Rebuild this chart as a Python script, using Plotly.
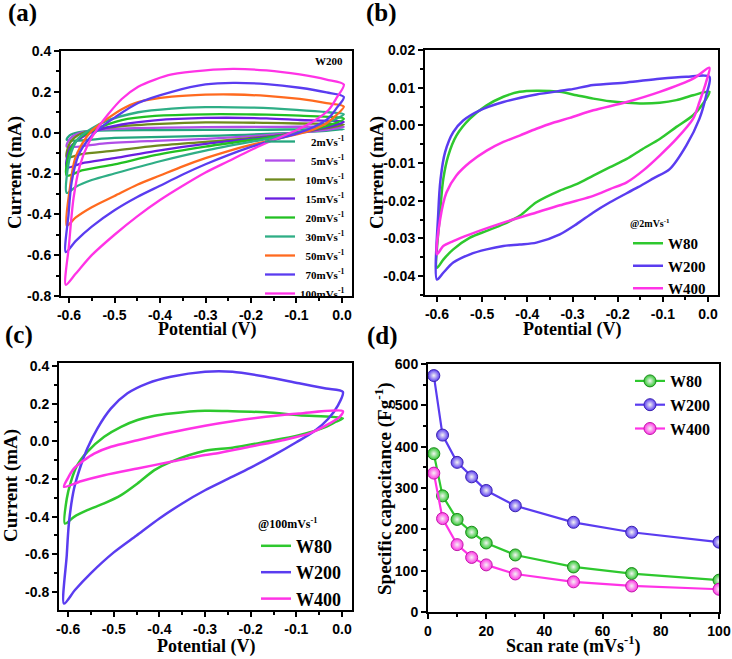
import plotly.graph_objects as go

SANS = "Liberation Sans, Arial, sans-serif"
SERIF = "Liberation Serif, Times New Roman, serif"
W, H = 732, 659

# ---------------- Panel (a): W200, CV at several scan rates ----------------
A_NAMES = ["\u2007\u20072mVs<sup>-1</sup>", "\u2007\u20075mVs<sup>-1</sup>", "\u200710mVs<sup>-1</sup>",
           "\u200715mVs<sup>-1</sup>", "\u200720mVs<sup>-1</sup>", "\u200730mVs<sup>-1</sup>",
           "\u200750mVs<sup>-1</sup>", "\u200770mVs<sup>-1</sup>", "100mVs<sup>-1</sup>"]
A_COLORS = ["#23a67e", "#b04ee8", "#6f8a1e", "#6a1fe0", "#22c022", "#2fae86", "#ff6a1f", "#5a3cf0", "#ff33e6"]

A2_X = [-0.605, -0.598, -0.58, -0.543, -0.40, -0.20, 0.004, -0.10, -0.30, -0.50, -0.605]
A2_Y = [-0.035, -0.012, 0.002, 0.010, 0.013, 0.014, 0.016, 0.000, -0.016, -0.026, -0.035]
A5_X = [-0.605, -0.598, -0.58, -0.543, -0.484, -0.30, -0.15, 0.004, -0.05, -0.166, -0.30, -0.411, -0.521, -0.605]
A5_Y = [-0.068, -0.03, -0.005, 0.012, 0.020, 0.027, 0.028, 0.028, 0.010, -0.012, -0.030, -0.040, -0.052, -0.068]
A10_X = [-0.605, -0.598, -0.58, -0.543, -0.484, -0.40, -0.30, -0.166, -0.093, 0.004, -0.04, -0.10, -0.166, -0.30, -0.411, -0.50, -0.572, -0.605]
A10_Y = [-0.12, -0.05, -0.012, 0.015, 0.032, 0.043, 0.050, 0.048, 0.045, 0.040, 0.020, 0.000, -0.020, -0.045, -0.065, -0.088, -0.105, -0.12]
A15_X = [-0.605, -0.598, -0.58, -0.543, -0.484, -0.411, -0.30, -0.166, -0.093, 0.004, -0.03, -0.093, -0.166, -0.30, -0.411, -0.50, -0.572, -0.605]
A15_Y = [-0.17, -0.075, -0.035, 0.008, 0.040, 0.060, 0.072, 0.070, 0.062, 0.052, 0.028, 0.000, -0.022, -0.055, -0.090, -0.125, -0.150, -0.17]
A20_X = [-0.605, -0.598, -0.58, -0.543, -0.484, -0.411, -0.30, -0.166, -0.093, 0.004, -0.03, -0.093, -0.166, -0.30, -0.411, -0.50, -0.572, -0.605]
A20_Y = [-0.21, -0.09, -0.03, 0.016, 0.062, 0.082, 0.090, 0.088, 0.083, 0.068, 0.035, 0.000, -0.025, -0.068, -0.110, -0.155, -0.185, -0.21]
A30_X = [-0.605, -0.598, -0.58, -0.55, -0.52, -0.448, -0.374, -0.30, -0.20, -0.10, -0.03, 0.004, -0.02, -0.06, -0.10, -0.15, -0.20, -0.30, -0.40, -0.50, -0.55, -0.585, -0.605]
A30_Y = [-0.295, -0.12, -0.03, 0.02, 0.055, 0.10, 0.118, 0.125, 0.123, 0.112, 0.100, 0.090, 0.060, 0.025, 0.000, -0.025, -0.045, -0.088, -0.140, -0.200, -0.232, -0.265, -0.295]
A50_X = [-0.605, -0.598, -0.587, -0.572, -0.55, -0.521, -0.484, -0.448, -0.374, -0.30, -0.239, -0.166, -0.093, -0.034, 0.004,
         -0.013, -0.035, -0.07, -0.10, -0.15, -0.20, -0.25, -0.30, -0.35, -0.40, -0.45, -0.50, -0.55, -0.585, -0.605]
A50_Y = [-0.455, -0.27, -0.13, -0.057, 0.01, 0.06, 0.115, 0.15, 0.176, 0.186, 0.187, 0.18, 0.165, 0.145, 0.128,
         0.085, 0.045, 0.01, -0.008, -0.035, -0.06, -0.09, -0.125, -0.165, -0.21, -0.255, -0.31, -0.365, -0.415, -0.455]
A70_X = [-0.607, -0.601, -0.594, -0.579, -0.558, -0.536, -0.499, -0.448, -0.374, -0.30, -0.239, -0.166, -0.093, -0.034, 0.004,
         -0.012, -0.03, -0.06, -0.10, -0.15, -0.20, -0.25, -0.30, -0.35, -0.40, -0.45, -0.50, -0.55, -0.585, -0.607]
A70_Y = [-0.585, -0.40, -0.24, -0.11, -0.035, 0.015, 0.075, 0.145, 0.20, 0.236, 0.244, 0.238, 0.22, 0.197, 0.175,
         0.12, 0.07, 0.03, -0.005, -0.035, -0.07, -0.11, -0.155, -0.205, -0.26, -0.315, -0.38, -0.46, -0.53, -0.585]
A100_X = [-0.607, -0.600, -0.590, -0.576, -0.558, -0.536, -0.514, -0.484, -0.448, -0.411, -0.374, -0.30, -0.24, -0.166, -0.093, -0.034, 0.004,
          -0.012, -0.03, -0.06, -0.10, -0.15, -0.20, -0.25, -0.30, -0.35, -0.40, -0.45, -0.50, -0.55, -0.585, -0.607]
A100_Y = [-0.745, -0.55, -0.32, -0.16, -0.055, 0.025, 0.09, 0.165, 0.225, 0.26, 0.285, 0.305, 0.312, 0.305, 0.285, 0.26, 0.236,
          0.17, 0.11, 0.06, 0.012, -0.035, -0.085, -0.14, -0.195, -0.26, -0.33, -0.41, -0.50, -0.60, -0.69, -0.745]

# ---------------- Panel (b): @2 mV/s ----------------
B_NAMES = ["W80", "W200", "W400"]
B80_X = [-0.600, -0.593, -0.586, -0.575, -0.557, -0.527, -0.490, -0.453, -0.417, -0.380, -0.328, -0.291, -0.254, -0.217, -0.180, -0.144, -0.107, -0.070, -0.033, 0.003,
         -0.011, -0.033, -0.070, -0.107, -0.144, -0.180, -0.217, -0.254, -0.291, -0.328, -0.380, -0.417, -0.453, -0.490, -0.527, -0.564, -0.586, -0.600]
B80_Y = [-0.0378, -0.023, -0.0142, -0.008, -0.0027, 0.0018, 0.0053, 0.0076, 0.0089, 0.0092, 0.0089, 0.008, 0.0071, 0.0064, 0.006, 0.0058, 0.006, 0.0067, 0.008, 0.0089,
         0.0058, 0.0027, -0.0004, -0.0036, -0.0062, -0.0089, -0.0111, -0.0133, -0.0156, -0.0173, -0.0204, -0.024, -0.0262, -0.028, -0.0298, -0.0329, -0.0356, -0.0378]
B200_X = [-0.600, -0.597, -0.592, -0.582, -0.564, -0.542, -0.505, -0.453, -0.380, -0.306, -0.254, -0.180, -0.107, -0.048, 0.003,
          -0.004, -0.019, -0.048, -0.085, -0.120, -0.155, -0.217, -0.254, -0.291, -0.328, -0.380, -0.417, -0.453, -0.490, -0.527, -0.564, -0.586, -0.600]
B200_Y = [-0.0409, -0.023, -0.0142, -0.0071, -0.0018, 0.0013, 0.004, 0.0062, 0.0082, 0.0095, 0.0107, 0.0114, 0.0124, 0.0129, 0.0129,
          0.008, 0.0018, -0.0053, -0.0116, -0.014, -0.0164, -0.0204, -0.0231, -0.0262, -0.0289, -0.0311, -0.0316, -0.032, -0.0329, -0.0342, -0.0364, -0.0391, -0.0409]
B400_X = [-0.600, -0.593, -0.579, -0.557, -0.527, -0.490, -0.453, -0.417, -0.380, -0.343, -0.306, -0.254, -0.180, -0.107, -0.033, 0.003,
          -0.004, -0.019, -0.033, -0.070, -0.107, -0.144, -0.180, -0.217, -0.254, -0.291, -0.328, -0.380, -0.453, -0.527, -0.564, -0.586, -0.600]
B400_Y = [-0.0342, -0.0249, -0.0178, -0.0133, -0.0098, -0.0067, -0.0044, -0.0027, -0.0009, 0.0007, 0.002, 0.004, 0.0062, 0.0089, 0.0124, 0.0153,
          0.0116, 0.0062, 0.0018, -0.0036, -0.008, -0.012, -0.0151, -0.0169, -0.0187, -0.02, -0.0212, -0.0231, -0.0258, -0.0289, -0.0307, -0.032, -0.0342]

# ---------------- Panel (c): @100 mV/s ----------------
C80_X = [-0.607, -0.603, -0.594, -0.580, -0.558, -0.521, -0.484, -0.448, -0.411, -0.375, -0.300, -0.240, -0.167, -0.094, 0.002,
         -0.013, -0.035, -0.094, -0.167, -0.240, -0.300, -0.375, -0.411, -0.448, -0.484, -0.521, -0.558, -0.587, -0.607]
C80_Y = [-0.437, -0.305, -0.215, -0.127, -0.056, 0.024, 0.077, 0.113, 0.136, 0.148, 0.162, 0.16, 0.154, 0.139, 0.122,
         0.104, 0.077, 0.033, -0.002, -0.034, -0.05, -0.109, -0.153, -0.224, -0.286, -0.33, -0.366, -0.401, -0.437]
C200_X = [-0.609, -0.603, -0.598, -0.587, -0.572, -0.558, -0.536, -0.506, -0.470, -0.426, -0.375, -0.300, -0.240, -0.167, -0.094, -0.035, 0.002,
          -0.009, -0.030, -0.060, -0.100, -0.150, -0.200, -0.250, -0.300, -0.350, -0.400, -0.450, -0.500, -0.550, -0.585, -0.609]
C200_Y = [-0.862, -0.605, -0.428, -0.251, -0.127, -0.038, 0.068, 0.175, 0.255, 0.308, 0.343, 0.37, 0.37, 0.343, 0.308, 0.281, 0.263,
          0.19, 0.12, 0.055, -0.005, -0.075, -0.14, -0.2, -0.26, -0.33, -0.41, -0.5, -0.59, -0.7, -0.79, -0.862]
C400_X = [-0.609, -0.601, -0.587, -0.565, -0.543, -0.506, -0.448, -0.375, -0.300, -0.240, -0.167, -0.094, 0.002,
          -0.005, -0.027, -0.071, -0.130, -0.203, -0.276, -0.300, -0.375, -0.448, -0.521, -0.572, -0.609]
C400_Y = [-0.242, -0.198, -0.144, -0.1, -0.065, -0.029, 0.006, 0.047, 0.083, 0.107, 0.13, 0.148, 0.16,
          0.13, 0.095, 0.042, 0.006, -0.029, -0.065, -0.073, -0.109, -0.144, -0.18, -0.212, -0.242]

# ---------------- Panel (d): specific capacitance ----------------
D_X = [2, 5, 10, 15, 20, 30, 50, 70, 100]
D80 = [383, 281, 224, 193, 167, 138, 109, 93, 77]
D200 = [572, 428, 362, 327, 294, 257, 217, 193, 169]
D400 = [336, 226, 163, 132, 114, 92, 73, 63, 55]

GREEN, BLUE, PINK = "#2ec82e", "#5a3cf0", "#ff33e6"

# tick labels
X_CV_VALS = [-0.6, -0.5, -0.4, -0.3, -0.2, -0.1, 0.0]
X_CV_TEXT = ["-0.6", "-0.5", "-0.4", "-0.3", "-0.2", "-0.1", "0.0"]
Y_A_VALS = [0.4, 0.2, 0.0, -0.2, -0.4, -0.6, -0.8]
Y_A_TEXT = ["0.4", "0.2", "0.0", "-0.2", "-0.4", "-0.6", "-0.8"]
Y_B_VALS = [0.02, 0.01, 0.0, -0.01, -0.02, -0.03, -0.04]
Y_B_TEXT = ["0.02", "0.01", "0.00", "-0.01", "-0.02", "-0.03", "-0.04"]
X_D_VALS = [0, 20, 40, 60, 80, 100]
Y_D_VALS = [0, 100, 200, 300, 400, 500, 600]


def px_dom(a, b, total, flip=False):
    if flip:
        return [1 - b / total, 1 - a / total]
    return [a / total, b / total]


fig = go.Figure()

a_series = [(A2_X, A2_Y), (A5_X, A5_Y), (A10_X, A10_Y), (A15_X, A15_Y), (A20_X, A20_Y),
            (A30_X, A30_Y), (A50_X, A50_Y), (A70_X, A70_Y), (A100_X, A100_Y)]
for (xs, ys), name, col in zip(a_series, A_NAMES, A_COLORS):
    fig.add_trace(go.Scatter(x=xs, y=ys, name=name, mode="lines",
                             line=dict(color=col, width=2.3, shape="spline", smoothing=0.8),
                             xaxis="x", yaxis="y", legend="legend"))

for (xs, ys), name, col in zip([(B80_X, B80_Y), (B200_X, B200_Y), (B400_X, B400_Y)], B_NAMES, [GREEN, BLUE, PINK]):
    fig.add_trace(go.Scatter(x=xs, y=ys, name=name, mode="lines",
                             line=dict(color=col, width=2.5, shape="spline", smoothing=0.8),
                             xaxis="x2", yaxis="y2", legend="legend2"))

for (xs, ys), name, col in zip([(C80_X, C80_Y), (C200_X, C200_Y), (C400_X, C400_Y)], B_NAMES, [GREEN, BLUE, PINK]):
    fig.add_trace(go.Scatter(x=xs, y=ys, name=name, mode="lines",
                             line=dict(color=col, width=2.5, shape="spline", smoothing=0.8),
                             xaxis="x3", yaxis="y3", legend="legend3"))

for ys, name, col, edge in zip([D80, D200, D400], B_NAMES, [GREEN, BLUE, PINK], ["#1a8a1a", "#3a22b0", "#c01aa8"]):
    fig.add_trace(go.Scatter(x=D_X, y=ys, name=name, mode="lines+markers",
                             line=dict(color=col, width=2.2),
                             marker=dict(symbol="circle", size=12, color=col,
                                         gradient=dict(type="radial", color="#f4f4f4"),
                                         line=dict(color=edge, width=1)),
                             xaxis="x4", yaxis="y4", legend="legend4"))

tickfont = dict(family=SANS, size=14, color="black", weight="bold")


def axis(dom, rng, vals, text, minor_dtick, anchor):
    return dict(domain=dom, range=rng, anchor=anchor, automargin=False, tickmode="array", tickvals=vals, ticktext=text,
                showline=True, linecolor="black", linewidth=2, mirror=True,
                ticks="outside", ticklen=5, tickwidth=1.5, tickcolor="black",
                showgrid=False, zeroline=False, tickfont=tickfont,
                minor=dict(tickmode="linear", tick0=0, dtick=minor_dtick, ticks="outside",
                           ticklen=3, tickwidth=1.5, tickcolor="black", showgrid=False))


leg_common = dict(bgcolor="rgba(0,0,0,0)", borderwidth=0, xanchor="left", yanchor="top", itemwidth=30)

fig.update_layout(
    template="none",
    width=W, height=H, margin=dict(l=0, r=0, t=0, b=0, autoexpand=False),
    paper_bgcolor="white", plot_bgcolor="white", showlegend=True,
    xaxis=axis(px_dom(61, 352, W), [-0.6176, 0.022], X_CV_VALS, X_CV_TEXT, 0.05, "y"),
    yaxis=axis(px_dom(51, 296, H, True), [-0.8, 0.4], Y_A_VALS, Y_A_TEXT, 0.1, "x"),
    xaxis2=axis(px_dom(425, 718, W), [-0.6265, 0.022], X_CV_VALS, X_CV_TEXT, 0.05, "y2"),
    yaxis2=axis(px_dom(50, 295, H, True), [-0.045, 0.02], Y_B_VALS, Y_B_TEXT, 0.005, "x2"),
    xaxis3=axis(px_dom(59, 352, W), [-0.62, 0.022], X_CV_VALS, X_CV_TEXT, 0.05, "y3"),
    yaxis3=axis(px_dom(363, 610, H, True), [-0.896, 0.416], Y_A_VALS, Y_A_TEXT, 0.1, "x3"),
    xaxis4=axis(px_dom(428, 719, W), [0, 100], X_D_VALS, [str(v) for v in X_D_VALS], 10, "y4"),
    yaxis4=axis(px_dom(364, 612, H, True), [0, 600], Y_D_VALS, [str(v) for v in Y_D_VALS], 50, "x4"),
    legend=dict(x=260 / W, y=1 - 127 / H, font=dict(family=SERIF, size=11, color="black", weight="bold"), **leg_common),
    legend2=dict(x=628 / W, y=1 - 214 / H, font=dict(family=SERIF, size=15, color="black", weight="bold"),
                 title=dict(text="@2mVs<sup>-1</sup>", font=dict(family=SERIF, size=10, color="black", weight="bold")),
                 **leg_common),
    legend3=dict(x=256 / W, y=1 - 512 / H, font=dict(family=SERIF, size=18, color="black", weight="bold"),
                 title=dict(text="@100mVs<sup>-1</sup>", font=dict(family=SERIF, size=12, color="black", weight="bold")),
                 **leg_common),
    legend4=dict(x=630 / W, y=1 - 364 / H, font=dict(family=SERIF, size=16, color="black", weight="bold"), **leg_common),
)

serif_b = lambda s: dict(family=SERIF, size=s, color="black", weight="bold")
ann = [
    ("(a)", 22, 13, 25, 0), ("(b)", 381, 13, 25, 0), ("(c)", 19, 335, 25, 0), ("(d)", 382, 336, 25, 0),
    ("W200", 329, 61, 11, 0),
    ("Potential (V)", 207, 329, 18, 0), ("Potential (V)", 572, 329, 18, 0),
    ("Potential (V)", 206, 646, 18, 0), ("Scan rate (mVs<sup>-1</sup>)", 573, 645, 18, 0),
    ("Current (mA)", 15, 173, 19, -90), ("Current (mA)", 377, 173, 19, -90),
    ("Current (mA)", 11, 486, 19, -90), ("Specific capacitance (Fg<sup>-1</sup>)", 384, 489, 19, -90),
]
for text, x, y, s, rot in ann:
    fig.add_annotation(text=text, x=x / W, y=1 - y / H, xref="paper", yref="paper",
                       xanchor="center", yanchor="middle", showarrow=False, font=serif_b(s), textangle=rot)

fig.write_html("out.html", config={"displayModeBar": False},
               post_script="document.body.style.margin='0px';document.body.style.overflow='hidden';")
